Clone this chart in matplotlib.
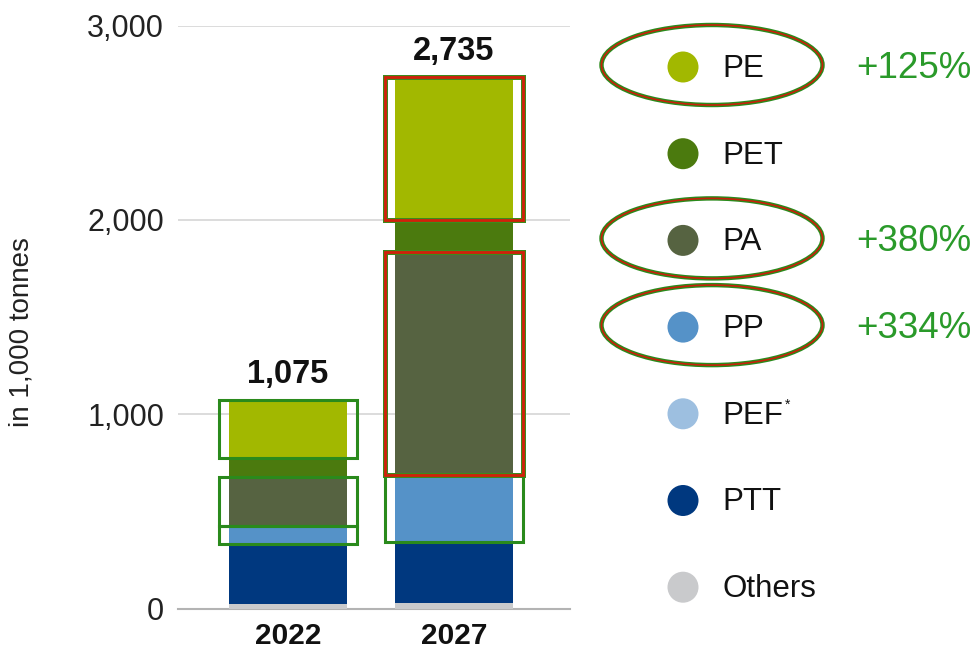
import matplotlib
matplotlib.use("Agg")
import matplotlib.pyplot as plt
from matplotlib.patches import Rectangle, Circle, Ellipse

plt.rcParams["font.family"] = ["Liberation Sans", "DejaVu Sans"]

# ---- data (1,000 tonnes) ----
years = ["2022", "2027"]
# stacked bottom -> top
others = [25, 30]
ptt = [305, 310]
pef = [0, 0]
pp = [95, 345]
pa = [250, 1150]
pet = [100, 165]
pe = [300, 735]
totals = [1075, 2735]

legend_names = ["PE", "PET", "PA", "PP", "PEF", "PTT", "Others"]
growth_labels = {"PE": "+125%", "PA": "+380%", "PP": "+334%"}

colors = {
    "PE": "#a2b800",
    "PET": "#4b7a0e",
    "PA": "#566341",
    "PP": "#5592c8",
    "PEF": "#9dbfe0",
    "PTT": "#00387f",
    "Others": "#c9cacc",
}

stack = [("Others", others), ("PTT", ptt), ("PEF", pef), ("PP", pp),
         ("PA", pa), ("PET", pet), ("PE", pe)]

W, H = 978, 655
fig = plt.figure(figsize=(W / 100, H / 100), dpi=100)

# main axes placed in pixel terms
left_px, right_px = 178, 570
bottom_px, top_px = 608.5, 25.5
ax = fig.add_axes([left_px / W, 1 - bottom_px / H,
                   (right_px - left_px) / W, (bottom_px - top_px) / H])

x = [0, 1]
bar_w = 0.71
bottoms = [0, 0]
seg_bounds = {}
for name, vals in stack:
    ax.bar(x, vals, width=bar_w, bottom=bottoms, color=colors[name],
           edgecolor="none", zorder=2)
    seg_bounds[name] = [(b, b + v) for b, v in zip(bottoms, vals)]
    bottoms = [b + v for b, v in zip(bottoms, vals)]

# highlight boxes around the growing segments
pad = 0.058
def box(i, name, style):
    lo, hi = seg_bounds[name][i]
    xl = x[i] - bar_w / 2 - pad
    wd = bar_w + 2 * pad
    if style == "green":
        ax.add_patch(Rectangle((xl, lo), wd, hi - lo, fill=False,
                               edgecolor="#2a8a1c", lw=2.2, zorder=4))
    else:
        ax.add_patch(Rectangle((xl, lo), wd, hi - lo, fill=False,
                               edgecolor="#3d8a1c", lw=3.6, zorder=4))
        ax.add_patch(Rectangle((xl, lo), wd, hi - lo, fill=False,
                               edgecolor="#d2200a", lw=2.0, zorder=5))

box(0, "PE", "green")
box(0, "PA", "green")
box(0, "PP", "green")
box(1, "PE", "red")
box(1, "PA", "red")
box(1, "PP", "green")

# totals above bars
for xi, t in zip(x, totals):
    ax.annotate(f"{t:,}", (xi, t), xytext=(0, 18), textcoords="offset points",
                ha="center", va="center", fontsize=23.5, fontweight="bold",
                color="#111111")

ax.set_xlim(-0.663, 1.699)
ax.set_ylim(0, 3000)
ax.set_yticks([0, 1000, 2000, 3000])
ax.set_yticklabels([f"{v:,}" for v in [0, 1000, 2000, 3000]])
ax.set_xticks(x)
ax.set_xticklabels(years, fontweight="bold")
ax.tick_params(axis="y", length=0, pad=10, labelsize=22, labelcolor="#222222")
ax.tick_params(axis="x", length=0, pad=9.5, labelsize=21.5, labelcolor="#111111")
ax.grid(axis="y", color="#dcdcdc", lw=1.4, zorder=0)
ax.set_axisbelow(True)
for s in ["top", "right", "left"]:
    ax.spines[s].set_visible(False)
ax.spines["bottom"].set_color("#b3b3b3")
ax.spines["bottom"].set_linewidth(1.5)
ax.spines["bottom"].set_zorder(1)

fig.text(22 / W, 1 - 332 / H, "in 1,000 tonnes", rotation=90,
         ha="center", va="center", fontsize=20, color="#222222")

# legend drawn in pixel coordinates
ov = fig.add_axes([0, 0, 1, 1], zorder=10)
ov.set_xlim(0, W)
ov.set_ylim(H, 0)
ov.axis("off")
ov.patch.set_alpha(0)

row0, step = 67, 86.7
for i, name in enumerate(legend_names):
    y = row0 + i * step
    ov.add_patch(Circle((683, y), 15.5, color=colors[name], lw=0))
    ov.text(722, y + 2, name, ha="left", va="center", fontsize=22.5,
            color="#111111")
    if name == "PEF":
        ov.text(785, y - 9, "*", ha="left", va="center", fontsize=10,
                color="#111111")
    if name in growth_labels:
        ov.add_patch(Ellipse((712, y - 2), 221, 80, fill=False,
                             edgecolor="#2a8a1c", lw=3.2))
        ov.add_patch(Ellipse((712, y - 2), 221, 80, fill=False,
                             edgecolor="#c8200a", lw=1.2))
        ov.text(856, y + 1, growth_labels[name], ha="left", va="center",
                fontsize=26.5, color="#2a9a2a")

fig.savefig("out.png", dpi=100)
